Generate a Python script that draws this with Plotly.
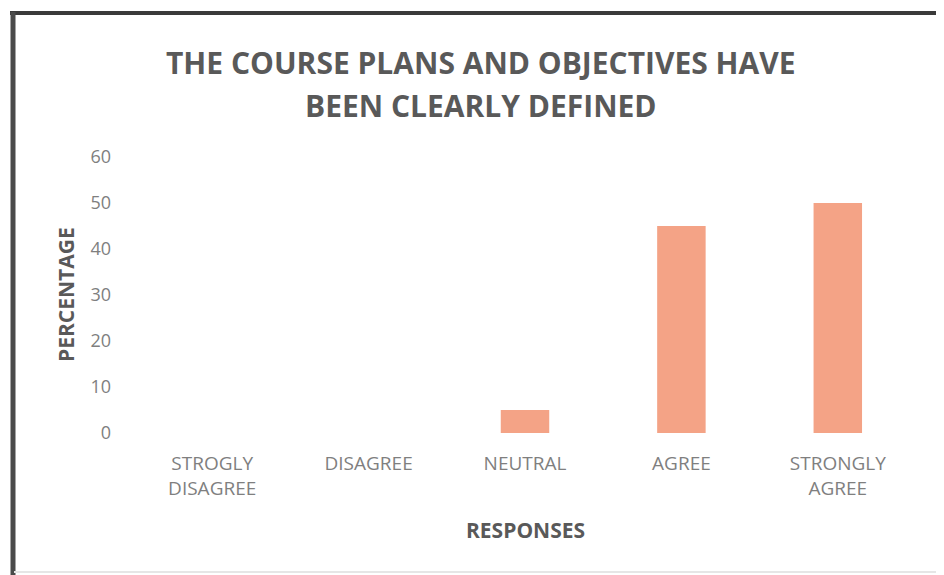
import plotly.graph_objects as go

categories = ["STROGLY<br>DISAGREE", "DISAGREE", "NEUTRAL", "AGREE", "STRONGLY<br>AGREE"]
percentages = [0, 0, 5, 45, 50]
y_ticks = [0, 10, 20, 30, 40, 50, 60]
title_lines = ["THE COURSE PLANS AND OBJECTIVES HAVE", "BEEN CLEARLY DEFINED"]

OFF = 8  # page body margin
W, H = 944 - OFF, 575 - OFF
L, R, T, B = 134 - OFF, 28, 157 - OFF, 575 - 433
pw, ph = W - L - R, H - T - B

def px_x(x):
    return (x - OFF - L) / pw

def px_y(y):
    return (H - B - (y - OFF)) / ph

FONT = "Open Sans"

fig = go.Figure(go.Bar(
    x=categories, y=percentages,
    marker=dict(color="#F4A386", line=dict(width=0)),
    width=0.31,
))

fig.update_layout(
    width=W, height=H,
    margin=dict(l=L, r=R, t=T, b=B),
    paper_bgcolor="white", plot_bgcolor="white",
    showlegend=False,
    font=dict(family=FONT, color="#7f7f7f"),
    xaxis=dict(showgrid=False, zeroline=False, showline=False,
               tickfont=dict(size=19, color="#7f7f7f"), ticklabelstandoff=17),
    yaxis=dict(range=[0, 60], tickvals=y_ticks, showgrid=False, zeroline=False,
               showline=False, tickfont=dict(size=18, color="#7f7f7f"),
               ticklabelstandoff=22),
)

annotations = [
    dict(text="<b>%s</b>" % title_lines[0], x=px_x(481), y=px_y(62)),
    dict(text="<b>%s</b>" % title_lines[1], x=px_x(481), y=px_y(105)),
]
for a in annotations:
    a.update(xref="paper", yref="paper", showarrow=False, xanchor="center", yanchor="middle",
             font=dict(family=FONT, size=30, color="#595959"))
annotations.append(dict(text="<b>RESPONSES</b>", x=px_x(525), y=px_y(530), xref="paper", yref="paper",
                        showarrow=False, xanchor="center", yanchor="middle",
                        font=dict(family=FONT, size=21, color="#595959")))
annotations.append(dict(text="<b>PERCENTAGE</b>", x=px_x(66), y=px_y(295), xref="paper", yref="paper",
                        showarrow=False, xanchor="center", yanchor="middle", textangle=-90,
                        font=dict(family=FONT, size=21, color="#595959")))
fig.update_layout(annotations=annotations)

# scanned frame lines
fig.add_shape(type="line", xref="paper", yref="paper", x0=px_x(10), x1=px_x(944), y0=px_y(13), y1=px_y(13),
              line=dict(color="#3a3a3a", width=4))
fig.add_shape(type="line", xref="paper", yref="paper", x0=px_x(13), x1=px_x(13), y0=px_y(12), y1=px_y(575),
              line=dict(color="#4a4a4a", width=5))
fig.add_shape(type="line", xref="paper", yref="paper", x0=px_x(940), x1=px_x(940), y0=px_y(14), y1=px_y(572),
              line=dict(color="#e2e2e2", width=2))
fig.add_shape(type="line", xref="paper", yref="paper", x0=px_x(14), x1=px_x(940), y0=px_y(572), y1=px_y(572),
              line=dict(color="#e6e6e6", width=2))

fig.write_html("out.html")
